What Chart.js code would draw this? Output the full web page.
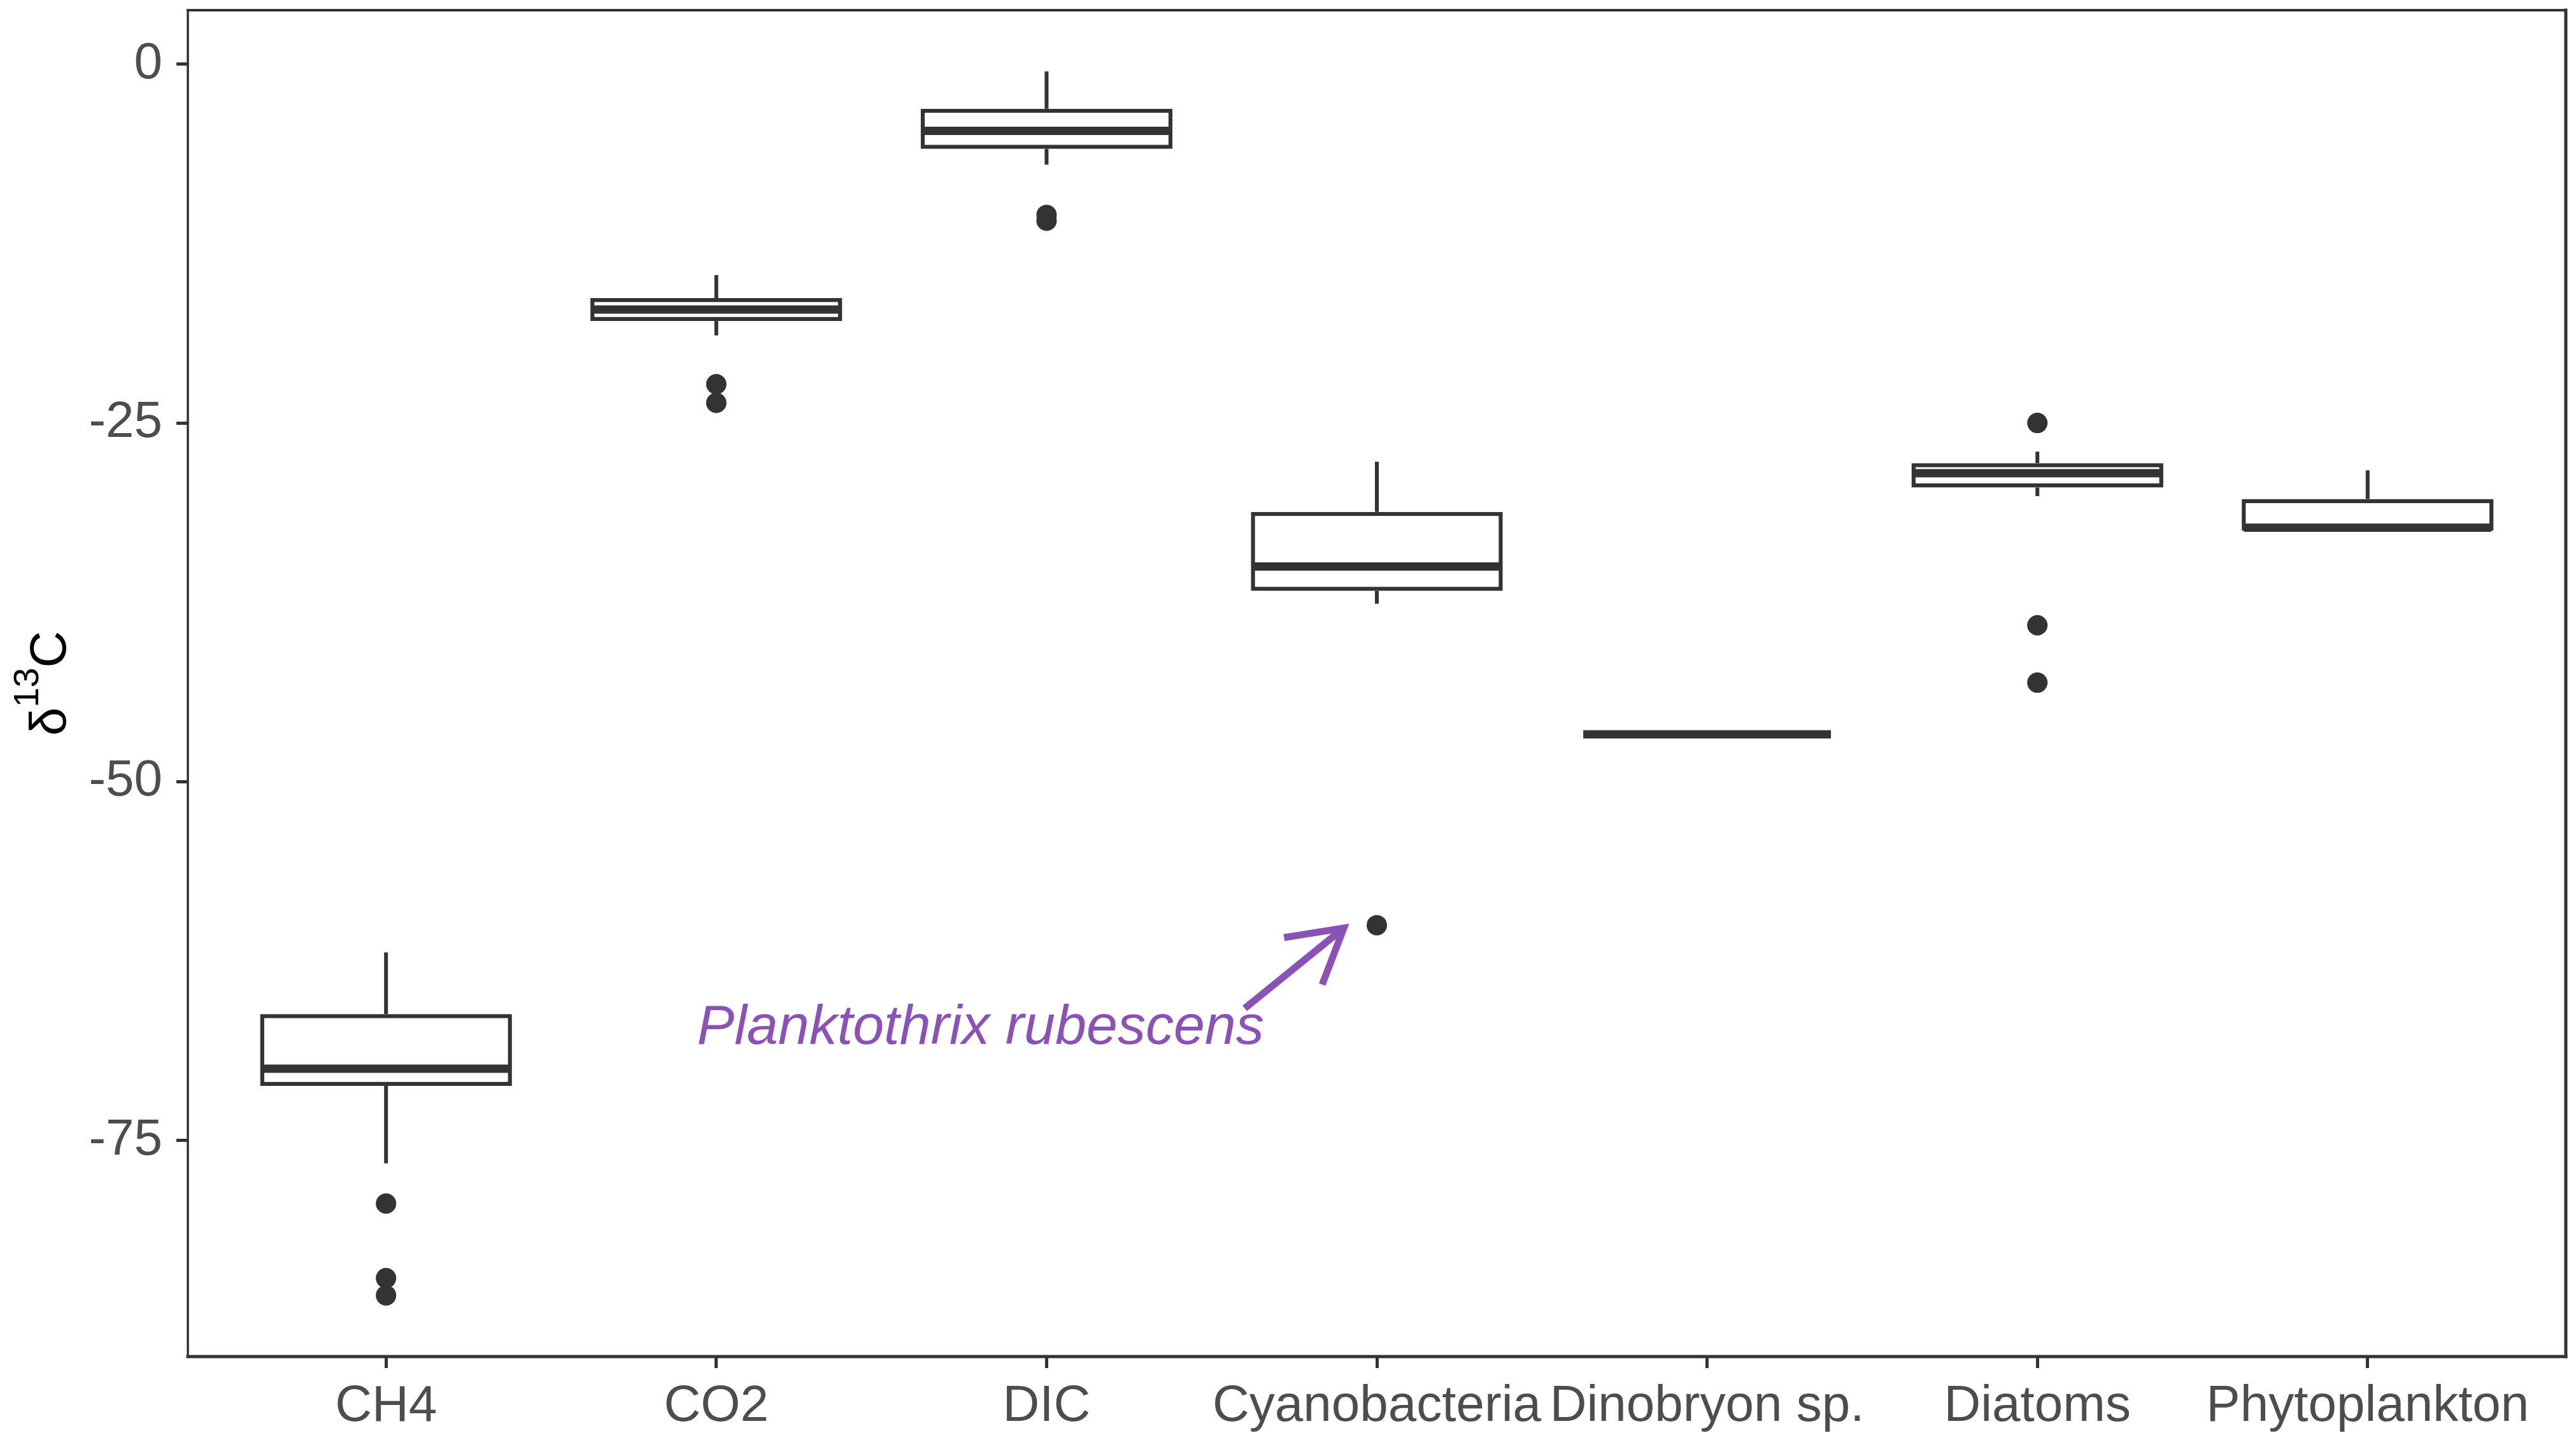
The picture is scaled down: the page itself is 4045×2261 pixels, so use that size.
<!DOCTYPE html>
<html>
<head>
<meta charset="utf-8">
<script src="https://cdn.jsdelivr.net/npm/chart.js@4/dist/chart.umd.min.js"></script>
<style>
  html, body { margin: 0; padding: 0; background: #ffffff; }
  #wrap { width: 4045px; height: 2261px; }
</style>
</head>
<body>
<div id="wrap"><canvas id="boxChart" width="4045" height="2261"></canvas></div>
<script>
// categories and box statistics
const groups = ['CH4', 'CO2', 'DIC', 'Cyanobacteria', 'Dinobryon sp.', 'Diatoms', 'Phytoplankton'];
const lowerWhisker = [-76.6, -18.9, -7.0, -37.6, -46.7, -30.1, -32.5];
const q1 = [-71.2, -17.9, -5.9, -36.7, -46.7, -29.5, -32.5];
const median = [-70.0, -17.1, -4.65, -35.0, -46.7, -28.5, -32.3];
const q3 = [-66.2, -16.3, -3.1, -31.2, -46.7, -27.8, -30.3];
const upperWhisker = [-61.9, -14.7, -0.5, -27.7, -46.7, -27.0, -28.3];

// outliers: group number (1 = CH4) and value
const outlierGroup = [1, 1, 1, 2, 2, 3, 3, 4, 6, 6, 6];
const outlierValue = [-79.4, -84.6, -85.8, -22.3, -23.6, -10.5, -10.9, -60.0, -25.0, -39.1, -43.1];

const yTicks = [0, -25, -50, -75];

// annotation (data coordinates)
const noteText = 'Planktothrix rubescens';
const noteAt = [2.8, -67.2];
const arrowFrom = [3.6, -65.8];
const arrowTo = [3.9, -60.2];

const ink = '#333333';
const tickInk = '#4d4d4d';
const purple = '#8a52b6';
const fontFamily = '"Liberation Sans", Arial, sans-serif';

// ggplot style 5% expansion of the data range
const allVals = lowerWhisker.concat(upperWhisker, outlierValue);
const lo = Math.min(...allVals);
const hi = Math.max(...allVals);
const pad = (hi - lo) * 0.05;

const boxData = groups.map((g, i) => ({ x: i + 1, y: [q1[i], q3[i]] }));
const outlierData = outlierValue.map((v, i) => ({ x: outlierGroup[i], y: v }));

function noEdgePadding(scale) {
  scale.paddingTop = 0;
  scale.paddingBottom = 0;
  scale.paddingLeft = 0;
  scale.paddingRight = 0;
}

// whiskers, medians, frame, y title and the annotation
const boxExtras = {
  id: 'boxExtras',
  afterDatasetsDraw(chart) {
    const ctx = chart.ctx;
    const xs = chart.scales.x;
    const ys = chart.scales.y;
    const half = (xs.getPixelForValue(1.375) - xs.getPixelForValue(1));

    ctx.save();
    ctx.strokeStyle = ink;
    ctx.lineCap = 'butt';

    for (let i = 0; i < groups.length; i++) {
      const px = xs.getPixelForValue(i + 1);
      ctx.lineWidth = 6;
      if (upperWhisker[i] > q3[i]) {
        ctx.beginPath();
        ctx.moveTo(px, ys.getPixelForValue(q3[i]));
        ctx.lineTo(px, ys.getPixelForValue(upperWhisker[i]));
        ctx.stroke();
      }
      if (lowerWhisker[i] < q1[i]) {
        ctx.beginPath();
        ctx.moveTo(px, ys.getPixelForValue(q1[i]));
        ctx.lineTo(px, ys.getPixelForValue(lowerWhisker[i]));
        ctx.stroke();
      }
      ctx.lineWidth = 13;
      const my = ys.getPixelForValue(median[i]);
      ctx.beginPath();
      ctx.moveTo(px - half, my);
      ctx.lineTo(px + half, my);
      ctx.stroke();
    }

    // annotation text
    ctx.fillStyle = purple;
    ctx.font = 'italic 88px ' + fontFamily;
    ctx.textAlign = 'center';
    ctx.textBaseline = 'middle';
    ctx.fillText(noteText, xs.getPixelForValue(noteAt[0]), ys.getPixelForValue(noteAt[1]));

    // arrow
    const ax0 = xs.getPixelForValue(arrowFrom[0]), ay0 = ys.getPixelForValue(arrowFrom[1]);
    const ax1 = xs.getPixelForValue(arrowTo[0]), ay1 = ys.getPixelForValue(arrowTo[1]);
    const ang = Math.atan2(ay1 - ay0, ax1 - ax0);
    const headLen = 95;
    ctx.strokeStyle = purple;
    ctx.lineWidth = 11;
    ctx.lineCap = 'butt';
    ctx.lineJoin = 'miter';
    ctx.beginPath();
    ctx.moveTo(ax0, ay0);
    ctx.lineTo(ax1, ay1);
    ctx.moveTo(ax1 - headLen * Math.cos(ang - Math.PI / 6), ay1 - headLen * Math.sin(ang - Math.PI / 6));
    ctx.lineTo(ax1, ay1);
    ctx.lineTo(ax1 - headLen * Math.cos(ang + Math.PI / 6), ay1 - headLen * Math.sin(ang + Math.PI / 6));
    ctx.stroke();
    ctx.restore();
  },
  afterDraw(chart) {
    const ctx = chart.ctx;
    const a = chart.chartArea;
    ctx.save();
    ctx.strokeStyle = ink;
    ctx.lineCap = 'square';
    // panel frame
    ctx.lineWidth = 4;
    ctx.beginPath(); ctx.moveTo(a.left, a.top); ctx.lineTo(a.right, a.top); ctx.stroke();
    ctx.lineWidth = 5;
    ctx.beginPath(); ctx.moveTo(a.right, a.top); ctx.lineTo(a.right, a.bottom); ctx.stroke();
    ctx.beginPath(); ctx.moveTo(a.left, a.bottom); ctx.lineTo(a.right, a.bottom); ctx.stroke();
    ctx.lineWidth = 3.5;
    ctx.beginPath(); ctx.moveTo(a.left, a.top); ctx.lineTo(a.left, a.bottom); ctx.stroke();

    // y title: delta 13 C with superscript
    const cy = (a.top + a.bottom) / 2;
    ctx.translate(103, cy);
    ctx.rotate(-Math.PI / 2);
    ctx.fillStyle = '#000000';
    ctx.textBaseline = 'alphabetic';
    ctx.textAlign = 'left';
    ctx.font = '80px ' + fontFamily;
    const wD = ctx.measureText('\u03b4').width;
    const wC = ctx.measureText('C').width;
    ctx.font = '56px ' + fontFamily;
    const w13 = ctx.measureText('13').width;
    let sx = -(wD + w13 + wC) / 2;
    ctx.font = '80px ' + fontFamily;
    ctx.fillText('\u03b4', sx, 0);
    ctx.font = '56px ' + fontFamily;
    ctx.fillText('13', sx + wD, -43);
    ctx.font = '80px ' + fontFamily;
    ctx.fillText('C', sx + wD + w13, 0);
    ctx.restore();
  }
};

Chart.defaults.font.family = fontFamily;

const ctx = document.getElementById('boxChart').getContext('2d');
const chart = new Chart(ctx, {
  type: 'bar',
  data: {
    datasets: [
      {
        type: 'scatter',
        label: 'outliers',
        data: outlierData,
        pointRadius: 16,
        pointBackgroundColor: ink,
        pointBorderWidth: 0,
        showLine: false
      },
      {
        type: 'bar',
        label: 'boxes',
        data: boxData,
        backgroundColor: '#ffffff',
        borderColor: ink,
        borderWidth: 6.5,
        borderSkipped: false,
        barPercentage: 0.7625,
        categoryPercentage: 1.0
      }
    ]
  },
  options: {
    responsive: false,
    devicePixelRatio: 1,
    animation: false,
    layout: { padding: { top: 16, right: 11, left: 0, bottom: 0 } },
    plugins: {
      legend: { display: false },
      tooltip: { enabled: false }
    },
    scales: {
      x: {
        type: 'linear',
        offset: false,
        min: 0.4,
        max: 7.6,
        afterBuildTicks: scale => { scale.ticks = groups.map((g, i) => ({ value: i + 1 })); },
        afterFit: scale => { scale.height = 131; noEdgePadding(scale); },
        ticks: {
          callback: v => groups[v - 1],
          color: tickInk,
          font: { size: 80 },
          padding: 13,
          maxRotation: 0,
          autoSkip: false
        },
        grid: { offset: false, drawOnChartArea: false, drawTicks: true, tickLength: 18, color: ink, lineWidth: 5 },
        border: { display: false }
      },
      y: {
        type: 'linear',
        min: lo - pad,
        max: hi + pad,
        afterBuildTicks: scale => { scale.ticks = yTicks.map(v => ({ value: v })); },
        afterFit: scale => { scale.width = 295; noEdgePadding(scale); },
        ticks: {
          color: tickInk,
          font: { size: 80 },
          padding: 22
        },
        grid: { drawOnChartArea: false, drawTicks: true, tickLength: 18, color: ink, lineWidth: 5 },
        border: { display: false }
      }
    }
  },
  plugins: [boxExtras]
});
</script>
</body>
</html>
